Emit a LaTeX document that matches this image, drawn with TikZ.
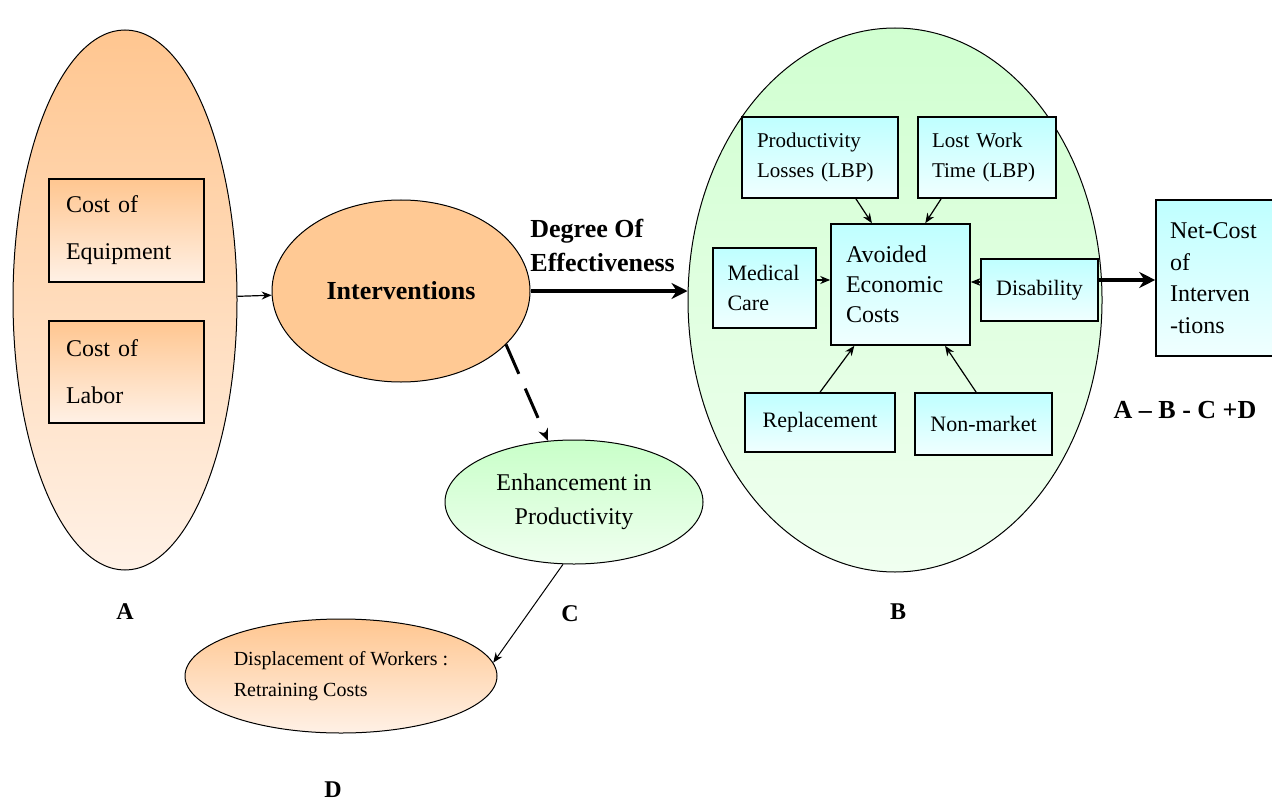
\documentclass[tikz,border=0pt]{standalone}
\usepackage{fontspec}
\setmainfont{Liberation Serif}
\usetikzlibrary{shapes.geometric,arrows.meta,calc}
\definecolor{orT}{HTML}{FFC690}
\definecolor{orB}{HTML}{FFF1E6}
\definecolor{grT}{HTML}{C8FFC8}
\definecolor{grB}{HTML}{F0FFF0}
\definecolor{cyT}{HTML}{BFFFFF}
\definecolor{cyB}{HTML}{F0FFFF}
\definecolor{peach}{HTML}{FFC994}
\begin{document}
\begin{tikzpicture}[x=0.5pt,y=-0.5pt,
  oval/.style={ellipse, draw, line width=0.5pt, inner sep=0pt},
  orshade/.style={top color=orT, bottom color=orB},
  grshade/.style={top color=grT, bottom color=grB},
  cybox/.style={rectangle, draw, line width=0.8pt, top color=cyT, bottom color=cyB, inner sep=0pt, font=\fontsize{10.5}{15}\selectfont},
  orbox/.style={rectangle, draw, line width=0.8pt, top color=orT, bottom color=orB, inner sep=0pt, align=left, font=\fontsize{12}{23.5}\selectfont},
  thinarrow/.style={-{Stealth[length=5pt,width=4pt]}, line width=0.6pt},
  thickarrow/.style={-{Stealth[length=8pt,width=8pt]}, line width=1.8pt},
  lbl/.style={font=\bfseries\fontsize{12}{14}\selectfont}
]
\useasboundingbox (0,0) rectangle (1272,802);

% left ellipse A
\node[oval, orshade, minimum width=112pt, minimum height=270pt] (A) at (125,300) {};
\node[orbox, minimum width=77.5pt, minimum height=51.5pt, text width=60.5pt] (eq) at (126.5,230.5) {Cost of\\Equipment};
\node[orbox, minimum width=77.5pt, minimum height=51pt, text width=60.5pt] (lab) at (126.5,372) {Cost of\\Labor};

% interventions
\node[oval, fill=peach, minimum width=129pt, minimum height=91pt, font=\bfseries\fontsize{13}{15}\selectfont] (int) at (401,291) {Interventions};

% enhancement
\node[oval, grshade, minimum width=129pt, minimum height=62pt, align=center, font=\fontsize{12}{17}\selectfont] (enh) at (574,502) {Enhancement in\\Productivity};

% displacement
\node[oval, orshade, minimum width=156pt, minimum height=57pt, align=left, font=\fontsize{10}{15.5}\selectfont] (disp) at (341,676) {Displacement of Workers :\\Retraining Costs};

% big ellipse B
\node[oval, top color=grT!85!white, bottom color=grB, minimum width=207pt, minimum height=272pt] (B) at (895,300) {};

\node[cybox, minimum width=78pt, minimum height=40.5pt, text width=63pt, align=left] (pl) at (820,157.5) {Productivity\\Losses (LBP)};
\node[cybox, minimum width=69pt, minimum height=40.5pt, text width=55pt, align=left] (lw) at (987,157.5) {Lost Work\\Time (LBP)};
\node[cybox, minimum width=69.5pt, minimum height=60.5pt, text width=54.5pt, align=left, font=\fontsize{12}{15}\selectfont] (av) at (900.5,284.5) {Avoided\\Economic\\Costs};
\node[cybox, minimum width=51.5pt, minimum height=40pt, text width=37pt, align=left, font=\fontsize{11}{15}\selectfont] (mc) at (764.5,288) {Medical\\Care};
\node[cybox, minimum width=58.5pt, minimum height=31pt, align=center, font=\fontsize{11}{15}\selectfont] (dis) at (1039.5,290) {Disability};
\node[cybox, minimum width=75pt, minimum height=29.5pt, align=center, font=\fontsize{11}{15}\selectfont] (rep) at (820,422.5) {Replacement};
\node[cybox, minimum width=68.5pt, minimum height=31pt, align=center, font=\fontsize{11}{15}\selectfont] (nm) at (983.5,424) {Non-market};

% net cost box
\node[cybox, minimum width=60pt, minimum height=78pt, text width=46pt, align=left, font=\fontsize{12}{15.75}\selectfont] (net) at (1216,278) {Net-Cost\\of\\Interven\\-tions};

% labels
\node[lbl] (la) at (125,612) {A};
\node[lbl] (lb) at (898,612) {B};
\node[lbl] (lc) at (570,614) {C};
\node[lbl] (ld) at (333,790) {D};
\node[font=\bfseries\fontsize{13}{15}\selectfont] (formula) at (1185,410) {A -- B - C +D};
\node[anchor=west, align=left, inner sep=0pt, font=\bfseries\fontsize{13}{17}\selectfont] (deg) at (530,245) {Degree Of\\Effectiveness};

% connectors
\draw[thinarrow] (A) -- (int);
\draw[thickarrow] (int.east) -- (int.east -| B.west);
\draw[-{Stealth[length=6pt,width=5pt]}, line width=1.5pt, dash pattern=on 16pt off 8pt] (int.-27) -- (enh.113);
\draw[thinarrow, line width=0.5pt] (enh.-100) -- (disp.5);

\draw[thinarrow] (pl.-49) -- (av.115);
\draw[thinarrow] (lw.-138) -- (av.68);
\draw[thinarrow] ([yshift=4pt]mc.east) -- ([yshift=4pt]mc.east -| av.west);
\draw[thinarrow] ([yshift=4pt]dis.west) -- ([yshift=4pt]dis.west -| av.east);
\draw[thinarrow] (rep.north) -- (av.-127);
\draw[thinarrow] (nm.103) -- (av.-54);
\draw[thickarrow] ([yshift=5pt]dis.east) -- ([yshift=5pt]dis.east -| net.west);
\end{tikzpicture}
\end{document}
